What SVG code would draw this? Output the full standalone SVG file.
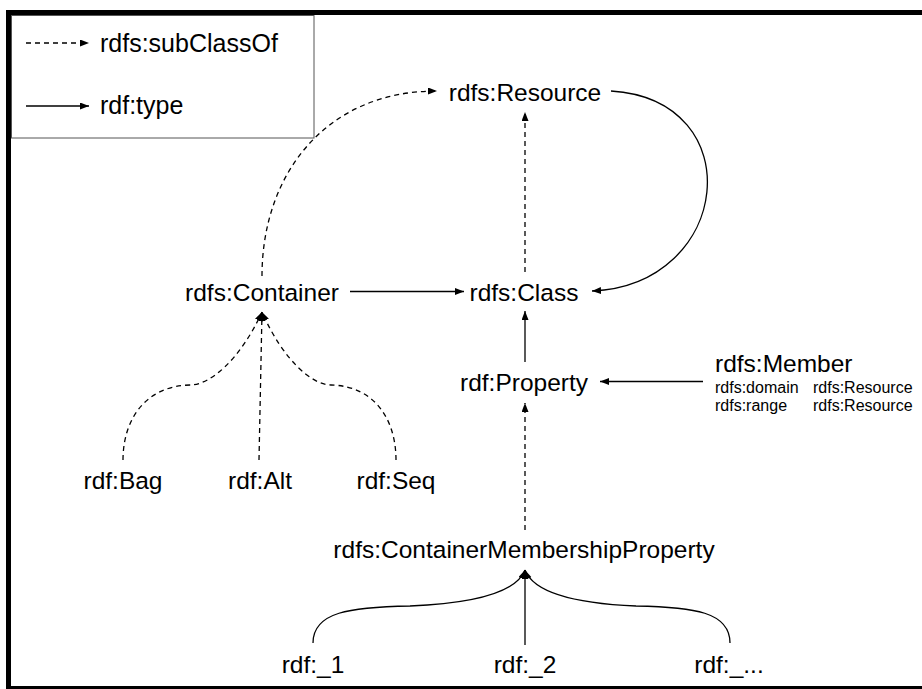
<svg xmlns="http://www.w3.org/2000/svg" width="922" height="689" viewBox="0 0 922 689">
<defs>
<marker id="ah" markerUnits="userSpaceOnUse" markerWidth="10" markerHeight="8" refX="9" refY="3.5" orient="auto">
<path d="M0,0 L9,3.5 L0,7 z" fill="#000"/>
</marker>
<style>
text{font-family:"Liberation Sans",Arial,sans-serif;fill:#000}
.n{font-size:24.5px;text-anchor:middle}
.s{font-size:16px}
.c{fill:none;stroke:#000;stroke-width:1.3}
.d{stroke-dasharray:5,4}
.a{marker-end:url(#ah)}
</style>
</defs>
<rect width="922" height="689" fill="#fff"/>
<rect x="8.5" y="12.5" width="940" height="676" fill="none" stroke="#000" stroke-width="5"/>
<g id="legend">
<rect x="11.5" y="15.5" width="302.5" height="122.5" fill="none" stroke="#555" stroke-width="1"/>
<path class="c d a" d="M26,43 L89,43"/>
<text x="100" y="52" style="font-size:25px">rdfs:subClassOf</text>
<path class="c a" d="M26,106 L89,106"/>
<text x="100" y="114" style="font-size:25px">rdf:type</text>
</g>
<g id="connectors">
<path class="c d a" d="M262,276 C262,175 325,91 437,91"/>
<path class="c d a" d="M525,272 L525,112"/>
<path class="c a" d="M611,91 C752,100 732,285 592,291"/>
<path class="c a" d="M350,291.5 L464,291.5"/>
<path class="c a" d="M525,362 L525,311"/>
<path class="c a" d="M703,381.5 L600,381.5"/>
<path class="c d a" d="M525,530 L525,403"/>
<path class="c d a" d="M123,460 C123,420 145,386 190,385 C210,385 240,360 262,312"/>
<path class="c d a" d="M259,460 L262,312"/>
<path class="c d a" d="M396,460 C396,420 375,386 331,385 C312,385 283,360 262,312"/>
<path class="c a" d="M313,643 C313,612 350,607 410,606 C460,604 515,596 525,570"/>
<path class="c a" d="M525,645 L525,570"/>
<path class="c a" d="M730,643 C730,612 694,607 636,606 C588,604 535,596 525,570"/>
</g>
<g id="resource"><text class="n" x="525" y="101">rdfs:Resource</text></g>
<g id="class"><text class="n" x="524" y="301">rdfs:Class</text></g>
<g id="container"><text class="n" x="262" y="301">rdfs:Container</text></g>
<g id="property"><text class="n" x="524" y="391">rdf:Property</text></g>
<g id="member">
<text x="715" y="372" style="font-size:24.5px">rdfs:Member</text>
<text class="s" x="715" y="393">rdfs:domain</text>
<text class="s" x="813" y="393">rdfs:Resource</text>
<text class="s" x="715" y="411">rdfs:range</text>
<text class="s" x="813" y="411">rdfs:Resource</text>
</g>
<g id="bag"><text class="n" x="123" y="489">rdf:Bag</text></g>
<g id="alt"><text class="n" x="260" y="489">rdf:Alt</text></g>
<g id="seq"><text class="n" x="396" y="489">rdf:Seq</text></g>
<g id="cmp"><text class="n" x="524" y="558">rdfs:ContainerMembershipProperty</text></g>
<g id="m1"><text class="n" x="313" y="673">rdf:_1</text></g>
<g id="m2"><text class="n" x="525" y="673">rdf:_2</text></g>
<g id="m3"><text class="n" x="729" y="673">rdf:_...</text></g>
</svg>
